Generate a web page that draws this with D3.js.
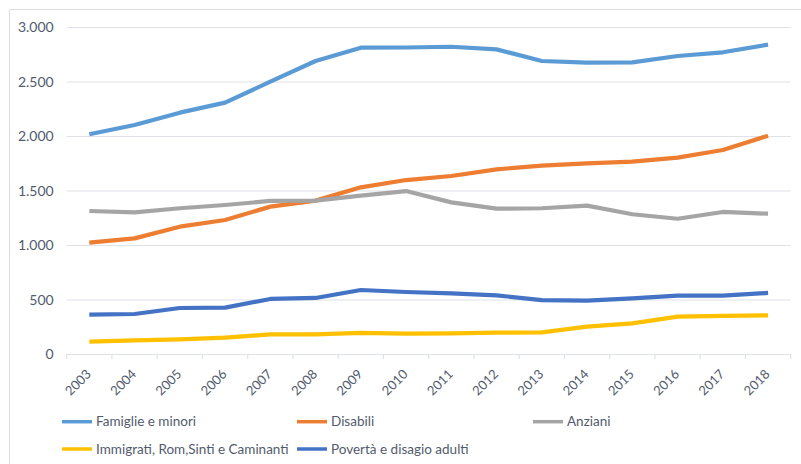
<!DOCTYPE html>
<html>
<head>
<meta charset="utf-8">
<script src="https://cdn.jsdelivr.net/npm/d3@7"></script>
<style>
  body { margin: 0; background: #fff; }
  text { font-family: Lato, "Noto Sans", sans-serif; fill: #525b6d; }
</style>
</head>
<body>
<div id="chart"></div>
<script>
// Data
var years = ["2003","2004","2005","2006","2007","2008","2009","2010","2011","2012","2013","2014","2015","2016","2017","2018"];
var famiglie = [2016, 2101, 2214, 2306, 2498, 2688, 2810, 2812, 2819, 2795, 2688, 2673, 2676, 2734, 2768, 2838];
var disabili = [1021, 1061, 1168, 1229, 1352, 1407, 1529, 1596, 1633, 1694, 1728, 1749, 1765, 1801, 1872, 2003];
var anziani = [1312, 1300, 1337, 1367, 1404, 1407, 1453, 1495, 1391, 1333, 1337, 1361, 1282, 1241, 1303, 1287];
var immigrati = [113, 125, 135, 150, 180, 180, 193, 187, 190, 196, 199, 251, 281, 343, 349, 355];
var poverta = [361, 367, 422, 425, 505, 514, 587, 569, 557, 538, 495, 489, 511, 535, 535, 560];
var yTicks = [0, 500, 1000, 1500, 2000, 2500, 3000];

var series = [
  { name: "Famiglie e minori", values: famiglie, color: "#5B9BD5" },
  { name: "Disabili", values: disabili, color: "#ED7D31" },
  { name: "Anziani", values: anziani, color: "#A5A5A5" },
  { name: "Immigrati, Rom,Sinti e Caminanti", values: immigrati, color: "#FFC000" },
  { name: "Povertà e disagio adulti", values: poverta, color: "#4472C4" }
];

var svgWidth = 801;
var svgHeight = 464;

var svg = d3.select("#chart").append("svg")
    .attr("width", svgWidth)
    .attr("height", svgHeight);

// outer frame of the chart
svg.append("rect")
    .attr("x", 9.5).attr("y", 9.5)
    .attr("width", 820).attr("height", 500)
    .attr("fill", "none")
    .attr("stroke", "#dadde3");

// plot area
var plot = { left: 66.7, right: 790.7, top: 27, bottom: 354 };

var x = d3.scaleBand()
    .domain(years)
    .range([plot.left, plot.right]);

var y = d3.scaleLinear()
    .domain([0, 3000])
    .range([plot.bottom, plot.top]);

// gridlines + y labels
var yAxis = d3.axisLeft(y)
    .tickValues(yTicks)
    .tickSize(-(plot.right - plot.left))
    .tickPadding(13)
    .tickFormat(d => d3.format(",")(d).replace(/,/g, "."));

var gy = svg.append("g")
    .attr("transform", `translate(${plot.left},0)`)
    .call(yAxis);
gy.select(".domain").remove();
gy.selectAll(".tick line").attr("stroke", "#dfe2e8").attr("stroke-width", 1.2);
gy.selectAll(".tick text").style("font-size", "14px").attr("dy", "0.35em");

// x axis with ticks between categories
var xAxis = d3.axisBottom(x).tickSize(0).tickPadding(0);
var gx = svg.append("g")
    .attr("transform", `translate(0,${plot.bottom})`)
    .call(xAxis);
gx.select(".domain").attr("stroke", "#dfe2e8").attr("stroke-width", 1.2);
gx.selectAll(".tick text")
    .style("font-size", "13px")
    .attr("text-anchor", "end")
    .attr("dy", 0)
    .attr("transform", `translate(${x.bandwidth() / 2 - 20},21) rotate(-45)`);

var boundaries = years.map(d => x(d)).concat([x(years[years.length - 1]) + x.bandwidth()]);
gx.selectAll(".sep")
    .data(boundaries)
    .enter().append("line")
    .attr("class", "sep")
    .attr("x1", d => d).attr("x2", d => d)
    .attr("y1", 0).attr("y2", 5)
    .attr("stroke", "#dfe2e8")
    .attr("stroke-width", 1.2);

// lines
var line = d3.line()
    .x((d, i) => x(years[i]) + x.bandwidth() / 2)
    .y(d => y(d));

svg.selectAll(".series")
    .data(series)
    .enter().append("path")
    .attr("class", "series")
    .attr("d", d => line(d.values))
    .attr("fill", "none")
    .attr("stroke", d => d.color)
    .attr("stroke-width", 4.2)
    .attr("stroke-linejoin", "round");

// legend
var legendX = [62, 297, 533];
var legendY = [421.7, 449];

var legend = svg.selectAll(".legend")
    .data(series)
    .enter().append("g")
    .attr("class", "legend")
    .attr("transform", (d, i) => `translate(${legendX[i % 3]},${legendY[Math.floor(i / 3)]})`);

legend.append("line")
    .attr("x1", 0).attr("x2", 30)
    .attr("y1", 0).attr("y2", 0)
    .attr("stroke", d => d.color)
    .attr("stroke-width", 3.5);

legend.append("text")
    .attr("x", 34)
    .attr("dy", "0.35em")
    .style("font-size", "13.5px")
    .text(d => d.name);
</script>
</body>
</html>
